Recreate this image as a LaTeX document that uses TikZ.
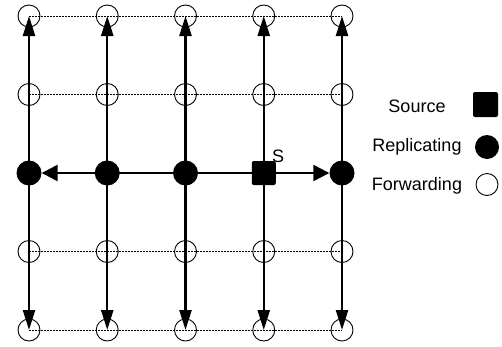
\documentclass[tikz,border=0pt]{standalone}
\usepackage{fontspec}
\setmainfont{Liberation Sans}
\usetikzlibrary{arrows.meta}
\begin{document}
\begin{tikzpicture}[x=1pt,y=-1pt,
  fwd/.style={circle,draw,line width=0.9pt,minimum size=22pt,inner sep=0pt},
  rep/.style={circle,fill=black,minimum size=25pt,inner sep=0pt},
  src/.style={rectangle,fill=black,rounded corners=2pt,minimum size=24pt,inner sep=0pt},
  dotline/.style={line width=0.9pt,dash pattern=on 1.5pt off 1.5pt},
  varrow/.style={line width=2.4pt,-{Triangle[length=20pt,width=12pt]}},
  harrow/.style={line width=2.4pt,-{Triangle[length=16pt,width=16pt]}},
  lbl/.style={font=\fontsize{18}{20}\selectfont,inner sep=0pt}]
\useasboundingbox (0,0) rectangle (502,346);
% grid nodes
\foreach \i in {1,...,5}{
  \foreach \j in {1,2,4,5}{
    \node[fwd] (n-\i-\j) at ({29+(\i-1)*78.25},{16+(\j-1)*78.5}) {};
  }
}
\foreach \i in {1,2,3,5}{
  \node[rep] (n-\i-3) at ({29+(\i-1)*78.25},173) {};
}
\node[src] (n-4-3) at (263.75,173) {};
\node[lbl,anchor=base west] (slabel) at (272,162) {S};
% dotted rows
\foreach \j in {1,2,4,5}{
  \draw[dotline] (n-1-\j.center) -- (n-5-\j.center);
}
% vertical arrows
\foreach \i in {1,...,5}{
  \draw[varrow] (n-\i-3.center) -- (n-\i-1.center);
  \draw[varrow] (n-\i-3.center) -- (n-\i-5.center);
}
% horizontal arrows
\draw[harrow] (n-4-3) -- (n-5-3);
\draw[harrow] (n-4-3) -- (n-1-3);
% legend
\node[lbl,anchor=base] (tsrc) at (417,112) {Source};
\node[lbl,anchor=base] (trep) at (417,151) {Replicating};
\node[lbl,anchor=base] (tfwd) at (417,190) {Forwarding};
\node[src,minimum size=25pt] (lsrc) at (485.5,104.5) {};
\node[rep,minimum size=24pt] (lrep) at (487,147) {};
\node[fwd] (lfwd) at (487,184.5) {};
\end{tikzpicture}
\end{document}
